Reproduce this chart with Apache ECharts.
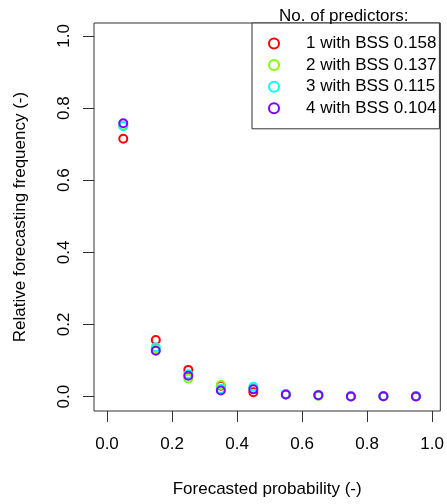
<!DOCTYPE html>
<html>
<head>
<meta charset="utf-8">
<script src="https://cdn.jsdelivr.net/npm/echarts@6/dist/echarts.min.js"></script>
<style>html,body{margin:0;padding:0;background:#fff}#c{width:447px;height:504px}</style>
</head>
<body>
<div id="c"></div>
<script>
const xValues = [0.05, 0.15, 0.25, 0.35, 0.45, 0.55, 0.65, 0.75, 0.85, 0.95];
const seriesNames = ['1 with BSS 0.158', '2 with BSS 0.137', '3 with BSS 0.115', '4 with BSS 0.104'];
const pred1 = [0.715, 0.157, 0.074, 0.030, 0.012, 0.006, 0.004, 0.001, 0.001, 0.001];
const pred2 = [0.752, 0.131, 0.050, 0.032, 0.021, 0.006, 0.002, 0.001, 0.001, 0.001];
const pred3 = [0.750, 0.137, 0.062, 0.021, 0.027, 0.007, 0.004, 0.001, 0.001, 0.001];
const pred4 = [0.758, 0.127, 0.058, 0.017, 0.020, 0.006, 0.004, 0.000, 0.001, 0.000];
const xTicks = [0.0, 0.2, 0.4, 0.6, 0.8, 1.0];
const yTicks = [0.0, 0.2, 0.4, 0.6, 0.8, 1.0];
const colors = ['#FF0000', '#80FF00', '#00FFFF', '#8000FF'];
const allSeries = [pred1, pred2, pred3, pred4];

const FONT = 'Liberation Sans';
const chart = echarts.init(document.getElementById('c'), null, {renderer: 'canvas'});
chart.setOption({
  animation: false,
  backgroundColor: '#fff',
  title: {
    text: 'No. of predictors:',
    left: 274, top: 3,
    textStyle: {fontFamily: FONT, fontSize: 17, fontWeight: 'normal', color: '#000'}
  },
  legend: {
    orient: 'vertical',
    left: 252, top: 23,
    padding: [12, 3, 12, 16],
    itemWidth: 10, itemHeight: 14, itemGap: 4.6,
    backgroundColor: '#fff',
    borderColor: '#333', borderWidth: 1, borderRadius: 0,
    textStyle: {fontFamily: FONT, fontSize: 17, lineHeight: 17, color: '#000', padding: [0, 0, 0, 22]},
    data: seriesNames.map((n, i) => ({
      name: n, icon: 'circle',
      itemStyle: {color: '#fff', borderColor: colors[i], borderWidth: 2}
    }))
  },
  grid: {left: 94, top: 23, right: 5, bottom: 93, show: true, borderColor: '#333', borderWidth: 1, backgroundColor: 'transparent'},
  xAxis: {
    type: 'value', min: -0.04, max: 1.025,
    name: 'Forecasted probability (-)', nameLocation: 'middle', nameGap: 70,
    nameTextStyle: {fontFamily: FONT, fontSize: 17, color: '#000'},
    axisLine: {show: false, onZero: false},
    axisTick: {show: true, inside: false, length: 11, customValues: xTicks, lineStyle: {color: '#333'}},
    axisLabel: {customValues: xTicks, formatter: v => v.toFixed(1), fontFamily: FONT, fontSize: 17, color: '#000', margin: 25},
    splitLine: {show: false}
  },
  yAxis: {
    type: 'value', min: -0.04, max: 1.036,
    name: 'Relative forecasting frequency (-)', nameLocation: 'middle', nameGap: 65,
    nameTextStyle: {fontFamily: FONT, fontSize: 17, color: '#000'},
    axisLine: {show: false, onZero: false},
    axisTick: {show: true, inside: false, length: 11, customValues: yTicks, lineStyle: {color: '#333'}},
    axisLabel: {customValues: yTicks, formatter: v => v.toFixed(1), rotate: 90, fontFamily: FONT, fontSize: 17, color: '#000', margin: 21},
    splitLine: {show: false}
  },
  series: allSeries.map((vals, i) => ({
    name: seriesNames[i],
    type: 'scatter',
    symbol: 'circle',
    symbolSize: 8,
    z: 2 + i,
    itemStyle: {color: 'rgba(255,255,255,0)', borderColor: colors[i], borderWidth: 2, opacity: 1},
    emphasis: {disabled: true},
    data: xValues.map((x, j) => [x, vals[j]])
  }))
});
</script>
</body>
</html>
